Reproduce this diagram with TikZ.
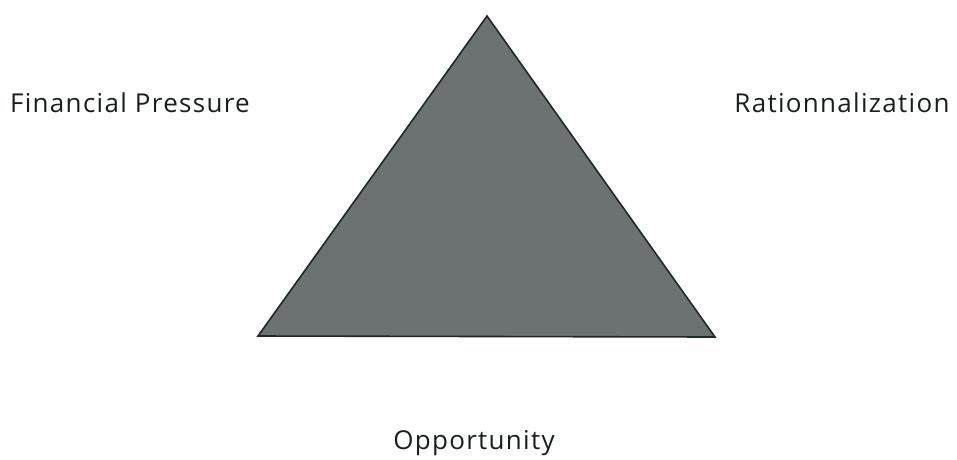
\documentclass[tikz,border=0pt]{standalone}
\usepackage{fontspec}
\setmainfont{Open Sans}
\newfontfamily\labelfont[LetterSpace=5]{Open Sans}
\usepackage{xcolor}
\usetikzlibrary{positioning}
\definecolor{trifill}{RGB}{108,114,114}
\definecolor{triedge}{RGB}{30,40,40}
\definecolor{labeltext}{RGB}{25,30,30}

\begin{document}
\begin{tikzpicture}[
  x=1pt, y=-1pt,
  corner/.style={font=\labelfont\fontsize{26}{30}\selectfont, text=labeltext, anchor=base, inner sep=0pt},
  triangle/.style={fill=trifill, draw=triedge, line width=1.6pt, line join=miter}
]
\useasboundingbox (0,0) rectangle (957,459);
% the fraud triangle: three corners
\coordinate (apex) at (487,16);
\coordinate (left) at (258,336);
\coordinate (right) at (715,337);
\draw[triangle] (apex) -- (left) -- (right) -- cycle;

% labels round it
\node[corner] (pressure) at (130,112) {Financial Pressure};
\node[corner] (rational) at (842,112) {Rationnalization};
\node[corner] (opportunity) at (474,449) {Opportunity};
\end{tikzpicture}
\end{document}
